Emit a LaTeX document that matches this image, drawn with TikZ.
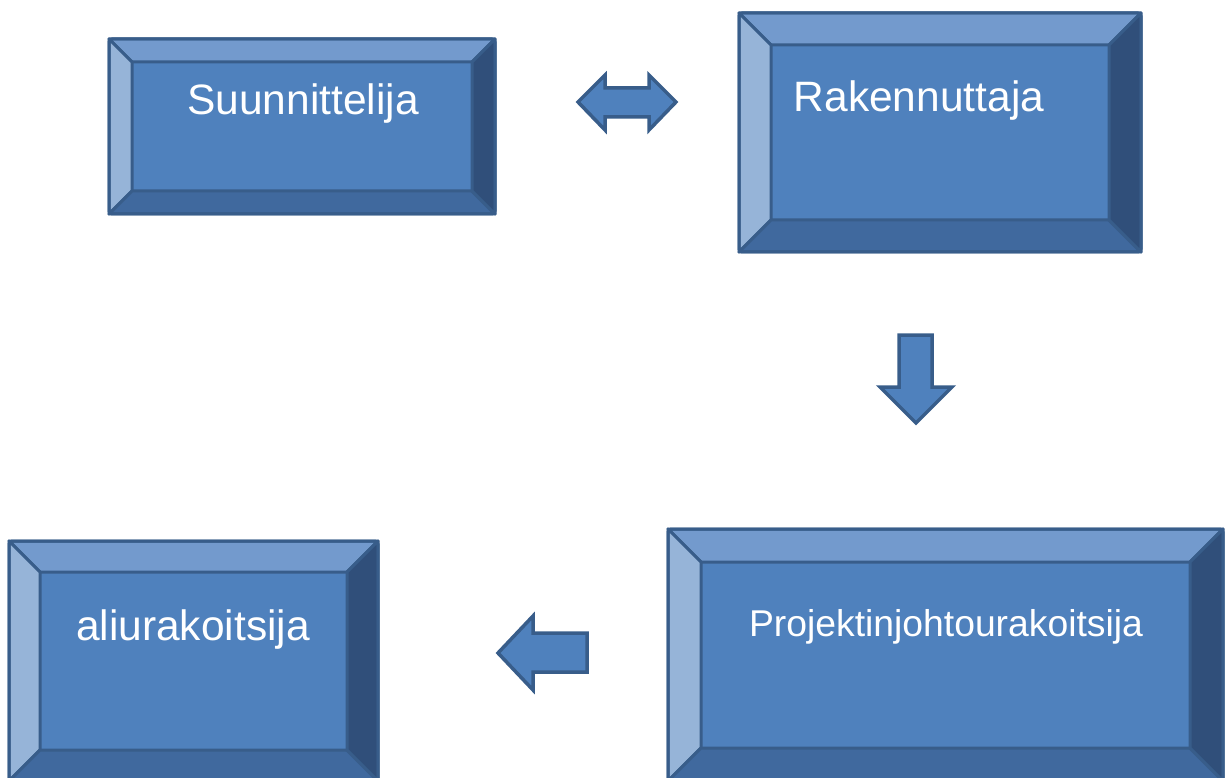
\documentclass[tikz,border=0pt]{standalone}
\usepackage{fontspec}
\setmainfont{Liberation Sans}
\definecolor{face}{RGB}{79,129,189}
\definecolor{bevtop}{RGB}{115,154,205}
\definecolor{bevleft}{RGB}{150,180,216}
\definecolor{bevbot}{RGB}{64,105,158}
\definecolor{bevright}{RGB}{48,79,122}
\definecolor{edge}{RGB}{56,93,138}
\tikzset{
  facet/.style={draw=edge, line width=3pt, line join=round},
  boxlabel/.style={text=white, inner sep=0pt, anchor=base},
  blockarrow/.style={fill=face, draw=edge, line width=3.5pt, line join=miter},
}
% bevelled box: name, left, top, right, bottom, bevel width
\newcommand{\bevbox}[6]{%
  \pgfmathsetmacro{\ilx}{#2+#6}\pgfmathsetmacro{\ity}{#3+#6}%
  \pgfmathsetmacro{\irx}{#4-#6}\pgfmathsetmacro{\iby}{#5-#6}%
  \fill[face] (#2,#3) rectangle (#4,#5);
  \filldraw[facet, fill=bevtop] (#2,#3) -- (#4,#3) -- (\irx,\ity) -- (\ilx,\ity) -- cycle;
  \filldraw[facet, fill=bevleft] (#2,#3) -- (\ilx,\ity) -- (\ilx,\iby) -- (#2,#5) -- cycle;
  \filldraw[facet, fill=bevbot] (#2,#5) -- (\ilx,\iby) -- (\irx,\iby) -- (#4,#5) -- cycle;
  \filldraw[facet, fill=bevright] (#4,#3) -- (\irx,\ity) -- (\irx,\iby) -- (#4,#5) -- cycle;
  \draw[facet, rounded corners=3pt] (#2,#3) rectangle (#4,#5);
  \node[inner sep=0pt, minimum width={#4-#2}, minimum height={#5-#3}, anchor=north west] (#1) at (#2,#3) {};
}
\begin{document}
\begin{tikzpicture}[x=1pt, y=-1pt]
\useasboundingbox (0,0) rectangle (1232,778);
\begin{scope}
\clip (0,0) rectangle (1232,778);

% boxes
\bevbox{suun}{109}{39}{495}{214}{23}
\bevbox{rak}{739}{13}{1141}{252}{32}
\bevbox{ali}{9}{541}{378}{781}{31}
\bevbox{pjo}{668}{529}{1223}{781}{33}

% labels
\node[boxlabel, font=\fontsize{42.5}{48}\selectfont] at (303,115) {Suunnittelija};
\node[boxlabel, font=\fontsize{42.5}{48}\selectfont] at (919,112) {Rakennuttaja};
\node[boxlabel, font=\fontsize{42.5}{48}\selectfont] at (193,640) {aliurakoitsija};
\node[boxlabel, font=\fontsize{37.3}{44}\selectfont] at (946,636) {Projektinjohtourakoitsija};

% double arrow between Suunnittelija and Rakennuttaja
\coordinate (da-l) at (578,102);
\coordinate (da-r) at (676,102);
\draw[blockarrow] (da-l) -- (605,75) -- (605,88) -- (649,88) -- (649,75) -- (da-r)
  -- (649,130) -- (649,117) -- (605,117) -- (605,130) -- cycle;

% down arrow below Rakennuttaja
\coordinate (dn-tip) at (916,423);
\draw[blockarrow] (899,335) -- (932,335) -- (932,387) -- (952,387) -- (dn-tip)
  -- (880,387) -- (899,387) -- cycle;

% left arrow towards aliurakoitsija
\coordinate (lf-tip) at (498,653);
\draw[blockarrow] (587,633) -- (587,672) -- (533,672) -- (533,690) -- (lf-tip)
  -- (533,616) -- (533,633) -- cycle;
\end{scope}
\end{tikzpicture}
\end{document}
